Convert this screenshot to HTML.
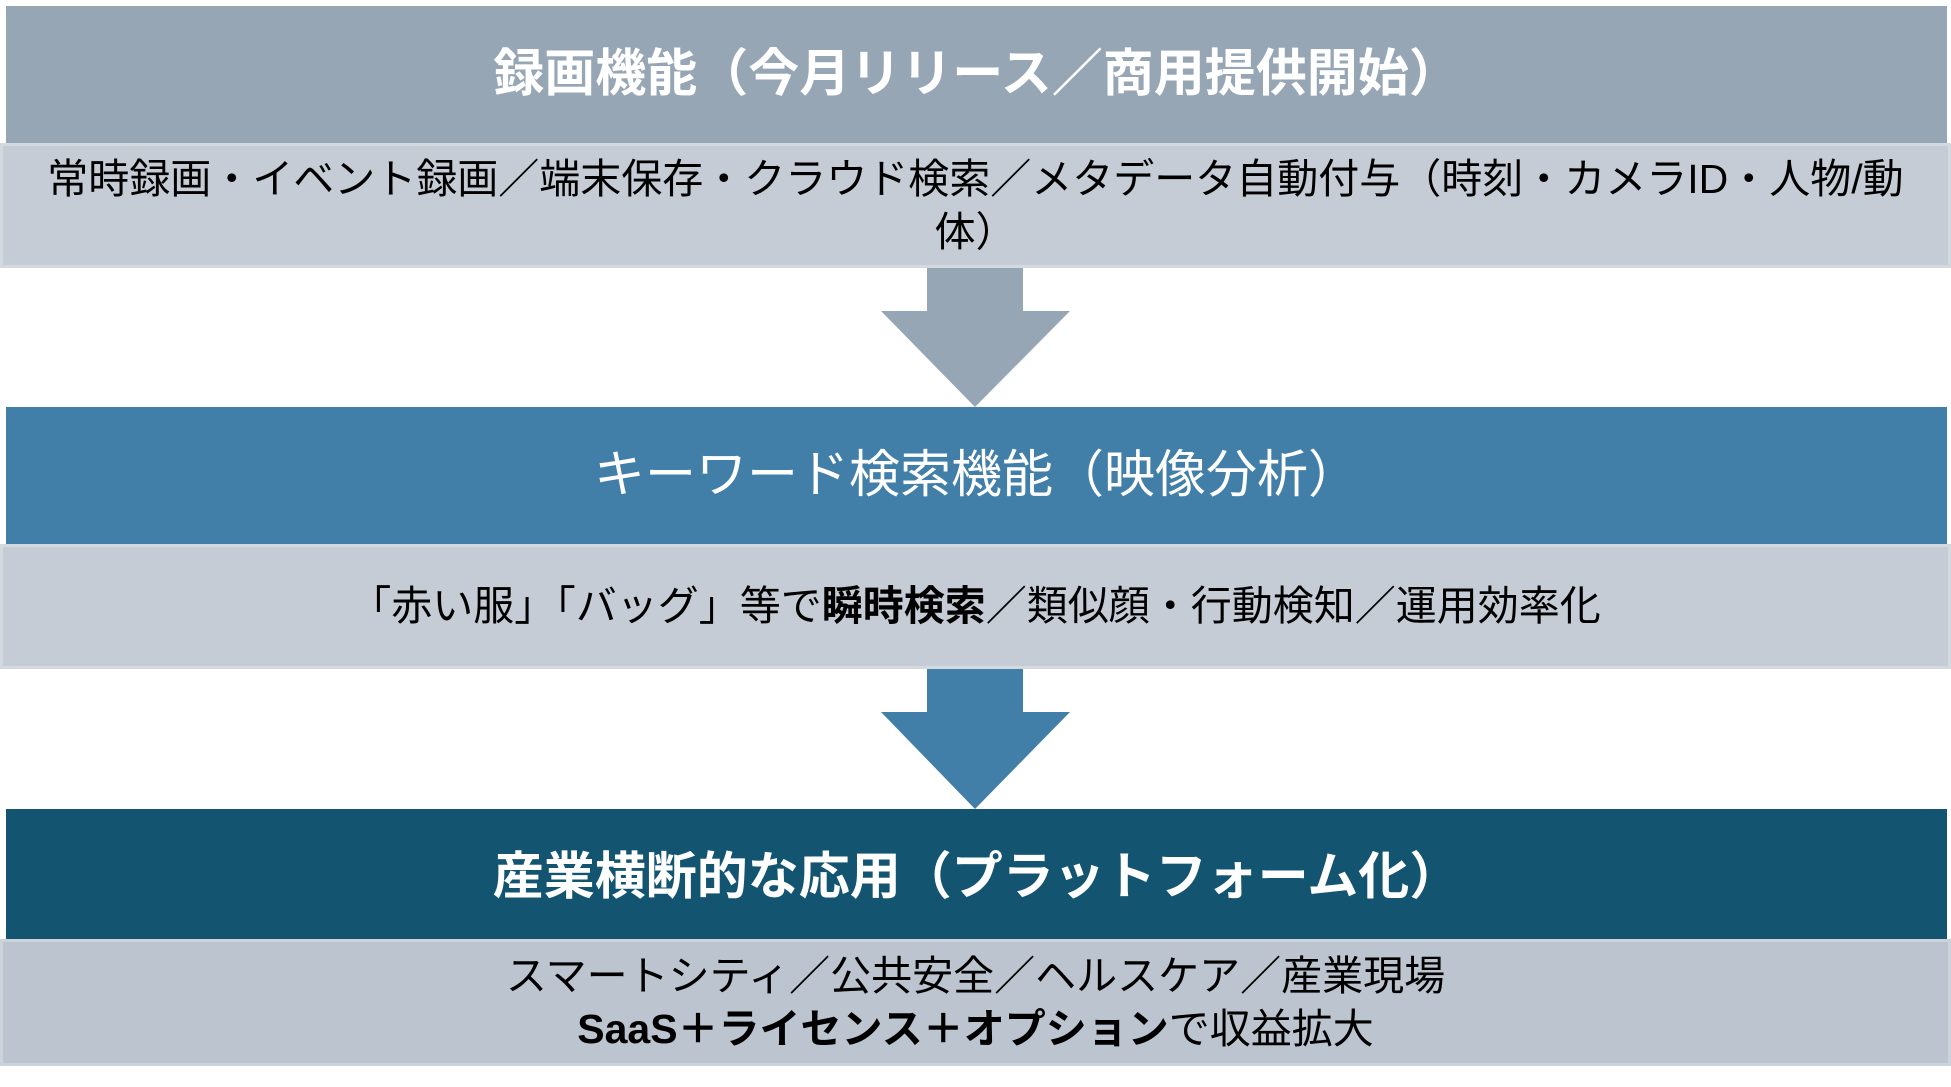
<!DOCTYPE html>
<html><head><meta charset="utf-8"><style>
body{margin:0;width:1951px;height:1087px;background:#fff;position:relative;overflow:hidden;font-family:"Liberation Sans","Noto Sans CJK JP",sans-serif;}
.b{position:absolute;display:flex;align-items:center;justify-content:center;text-align:center;box-sizing:border-box;}
.h{left:6px;width:1941px;color:#fff;font-size:51px;}
.s{left:0;width:1951px;color:#000;font-size:41px;line-height:53px;border:3px solid rgba(255,255,255,0.25);}
</style></head><body>
<div class="b h" style="top:6px;height:137px;background:#97a6b5;font-weight:bold;padding-bottom:12px;"><div>録画機能（今月リリース／商用提供開始）</div></div>
<div class="b s" style="top:143px;height:125px;background:#c5ccd5;"><div>常時録画・イベント録画／端末保存・クラウド検索／メタデータ自動付与（時刻・カメラID・人物/動<br>体）</div></div>
<svg style="position:absolute;left:0;top:0" width="1951" height="1087">
<polygon points="927,268 1023,268 1023,311 1070,311 975,407 881,311 927,311" fill="#97a6b5"/>
<polygon points="927,669 1023,669 1023,712 1070,712 975,809 881,712 927,712" fill="#417fa9"/>
</svg>
<div class="b h" style="top:407px;height:137px;background:#417fa9;padding-bottom:12px;"><div>キーワード検索機能（映像分析）</div></div>
<div class="b s" style="top:544px;height:125px;background:#c5ccd5;"><div>「赤い服」「バッグ」等で<b>瞬時検索</b>／類似顔・行動検知／運用効率化</div></div>
<div class="b h" style="top:809px;height:130px;background:#135471;font-weight:bold;padding-bottom:4px;"><div>産業横断的な応用（プラットフォーム化）</div></div>
<div class="b s" style="top:939px;height:127px;background:#bcc5cf;"><div>スマートシティ／公共安全／ヘルスケア／産業現場<br><b>SaaS＋ライセンス＋オプション</b>で収益拡大</div></div>
</body></html>
